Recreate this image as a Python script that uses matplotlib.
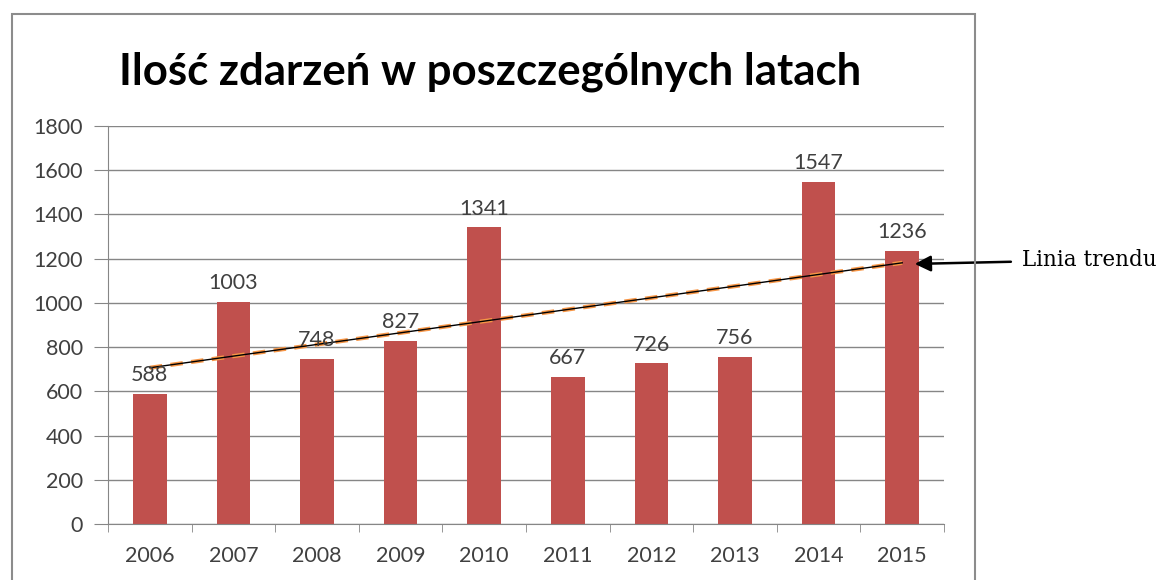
import numpy as np
import matplotlib.pyplot as plt
from matplotlib.patches import Rectangle

years = ['2006', '2007', '2008', '2009', '2010', '2011', '2012', '2013', '2014', '2015']
counts = [588, 1003, 748, 827, 1341, 667, 726, 756, 1547, 1236]
yticks = [0, 200, 400, 600, 800, 1000, 1200, 1400, 1600, 1800]

BAR = '#C0504D'
GRID = '#868686'
TXT = '#404040'


def main():
    fig = plt.figure(figsize=(11.64, 5.8), dpi=100)
    fig.patch.set_facecolor('white')

    # outer chart frame (bottom edge runs off the image)
    fig.add_artist(Rectangle((12 / 1164, -0.05), (975 - 12) / 1164, 1.05 - 14 / 580,
                             transform=fig.transFigure, fill=False,
                             edgecolor='#8c8c8c', lw=1.5))

    ax = fig.add_axes([108 / 1164, 1 - 524 / 580, (944 - 108) / 1164, (524 - 126) / 580])
    x = np.arange(len(years))
    ax.bar(x, counts, width=0.4, color=BAR, zorder=2)

    for xi, v in zip(x, counts):
        ax.text(xi, v + 40, str(v), ha='center', va='bottom', fontsize=15.5,
                color=TXT, family='Lato', zorder=4)

    # linear trend line (Excel style)
    k, b = np.polyfit(x, counts, 1)
    ty = k * x + b
    ax.plot([x[0], x[-1]], [ty[0], ty[-1]], color='#F79646', lw=3, ls=(0, (3, 2)), zorder=3)
    ax.plot([x[0], x[-1]], [ty[0], ty[-1]], color='black', lw=1, zorder=3)

    ax.set_xlim(-0.5, len(years) - 0.5)
    ax.set_ylim(0, 1800)
    ax.set_yticks(yticks)
    ax.set_yticklabels([str(t) for t in yticks], fontsize=15.5, color=TXT, family='Lato')
    ax.set_xticks(x)
    ax.set_xticklabels(years, fontsize=15.5, color=TXT, family='Lato')
    ax.set_xticks(np.arange(-0.5, len(years)), minor=True)
    ax.tick_params(axis='x', which='major', length=0, pad=16)
    ax.tick_params(axis='x', which='minor', length=6, color=GRID, direction='out')
    ax.tick_params(axis='y', length=10, color=GRID, pad=8)
    ax.grid(True, axis='y', color=GRID, lw=1, zorder=0)
    ax.set_axisbelow(True)
    for s in ['top', 'right']:
        ax.spines[s].set_visible(False)
    ax.spines['left'].set_color(GRID)
    ax.spines['bottom'].set_color(GRID)

    fig.text(490 / 1164, 1 - 72 / 580, 'Ilość zdarzeń w poszczególnych latach',
             ha='center', va='center', fontsize=31.5, fontweight='bold', family='Lato')

    # annotation for the trend line
    ax.annotate('Linia trendu', xy=(x[-1] + 0.15, ty[-1] - 5), xycoords='data',
                xytext=(1022 / 1164, 1 - 260 / 580), textcoords='figure fraction',
                ha='left', va='center', fontsize=15.5, family='DejaVu Serif',
                arrowprops=dict(arrowstyle='-|>', color='black', lw=1.8,
                                mutation_scale=24, shrinkA=6, shrinkB=0),
                annotation_clip=False)

    fig.savefig('out.png', dpi=100)


if __name__ == '__main__':
    main()
